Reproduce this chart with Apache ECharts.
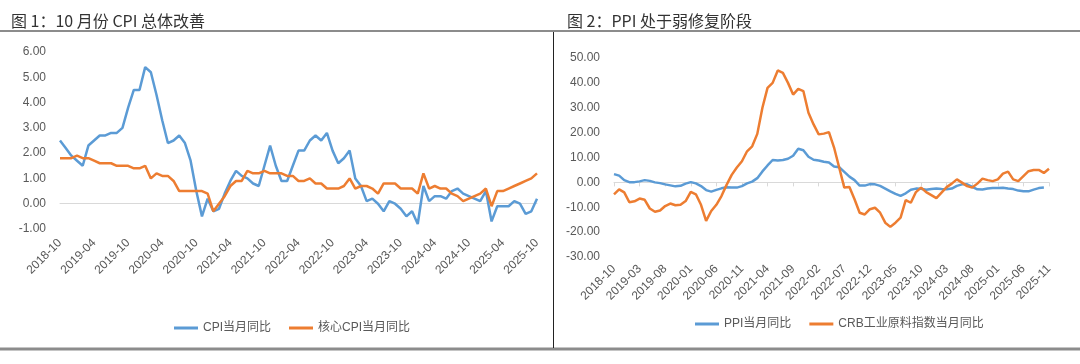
<!DOCTYPE html>
<html><head><meta charset="utf-8">
<script src="https://cdn.jsdelivr.net/npm/echarts@6/dist/echarts.min.js"></script>
<style>html,body{margin:0;padding:0;background:#fff}#c{width:1080px;height:364px}</style>
</head><body><div id="c"></div>
<script>
// ---- data ----
const cpiMonths = [];
(function(){let y=2018,m=10;for(let i=0;i<85;i++){cpiMonths.push(y+'-'+String(m).padStart(2,'0'));m++;if(m>12){m=1;y++;}}})();
const ppiMonths = [];
(function(){let y=2018,m=10;for(let i=0;i<86;i++){ppiMonths.push(y+'-'+String(m).padStart(2,'0'));m++;if(m>12){m=1;y++;}}})();

const cpiYoY = [2.5,2.2,1.9,
 1.7,1.5,2.3,2.5,2.7,2.7,2.8,2.8,3.0,3.8,4.5,4.5,
 5.4,5.2,4.3,3.3,2.4,2.5,2.7,2.4,1.7,0.5,-0.5,0.2,
 -0.3,-0.2,0.4,0.9,1.3,1.1,1.0,0.8,0.7,1.5,2.3,1.5,
 0.9,0.9,1.5,2.1,2.1,2.5,2.7,2.5,2.8,2.1,1.6,1.8,
 2.1,1.0,0.7,0.1,0.2,0.0,-0.3,0.1,0.0,-0.2,-0.5,-0.3,
 -0.8,0.7,0.1,0.3,0.3,0.2,0.5,0.6,0.4,0.3,0.2,0.1,
 0.5,-0.7,-0.1,-0.1,-0.1,0.1,0.0,-0.4,-0.3,0.2];
const coreCpiYoY = [1.8,1.8,1.8,
 1.9,1.8,1.8,1.7,1.6,1.6,1.6,1.5,1.5,1.5,1.4,1.4,
 1.5,1.0,1.2,1.1,1.1,0.9,0.5,0.5,0.5,0.5,0.5,0.4,
 -0.3,0.0,0.3,0.7,0.9,0.9,1.3,1.2,1.2,1.3,1.2,1.2,
 1.2,1.1,1.1,0.9,0.9,1.0,0.8,0.8,0.6,0.6,0.6,0.7,
 1.0,0.6,0.7,0.7,0.6,0.4,0.8,0.8,0.8,0.6,0.6,0.6,
 0.4,1.2,0.6,0.7,0.6,0.6,0.4,0.3,0.1,0.2,0.3,0.4,
 0.6,-0.1,0.5,0.5,0.6,0.7,0.8,0.9,1.0,1.2];
const ppiYoY = [3.3,2.7,0.9,
 0.1,0.1,0.4,0.9,0.6,0.0,-0.3,-0.8,-1.2,-1.6,-1.4,-0.5,
 0.1,-0.4,-1.5,-3.1,-3.7,-3.0,-2.4,-2.0,-2.1,-2.1,-1.5,-0.4,
 0.3,1.7,4.4,6.8,9.0,8.8,9.0,9.5,10.7,13.5,12.9,10.3,
 9.1,8.8,8.3,8.0,6.4,6.1,4.2,2.3,0.9,-1.3,-1.3,-0.7,
 -0.8,-1.4,-2.5,-3.6,-4.6,-5.4,-4.4,-3.0,-2.5,-2.6,-3.0,-2.7,
 -2.5,-2.7,-2.8,-2.5,-1.4,-0.8,-0.8,-1.8,-2.8,-2.9,-2.5,-2.3,
 -2.3,-2.2,-2.5,-2.7,-3.3,-3.6,-3.6,-2.9,-2.3,-2.1,null];
const crbYoY = [-4.8,-2.8,-4.0,-8.0,-7.6,-6.5,-7.0,-10.5,-11.8,-11.3,
 -9.5,-8.5,-9.2,-9.0,-7.5,-3.8,-4.8,-9.0,-15.5,-11.5,
 -9.0,-5.5,-1.0,3.0,6.0,8.5,12.5,14.5,19.5,30.0,
 38.0,40.0,45.0,44.0,40.0,35.3,37.6,36.7,28.0,23.3,
 19.3,19.6,20.2,14.0,6.0,-2.1,-1.9,-6.8,-12.2,-12.9,
 -10.8,-10.2,-12.2,-16.2,-17.9,-16.2,-14.2,-7.1,-8.2,-3.9,
 -2.1,-3.9,-5.1,-6.3,-4.1,-1.9,-0.5,1.2,-0.1,-1.5,
 -2.1,-0.5,1.5,0.9,0.5,1.2,3.5,4.3,1.2,0.5,
 2.5,4.5,5.0,5.0,3.8,5.5];

const BLUE='#5B9BD5', ORANGE='#ED7D31', TXT='#595959';
const FONT='"Liberation Sans","Noto Sans CJK SC",sans-serif';
const chart = echarts.init(document.getElementById('c'));
const lblX = {color:TXT,fontSize:12,fontFamily:FONT,rotate:45,margin:12};
const lblY = ()=>({color:TXT,fontSize:12,fontFamily:FONT,margin:14,formatter:v=>v.toFixed(2)});
chart.setOption({
  animation:false,
  title:[
    {text:'图 1：10 月份 CPI 总体改善',left:6,top:8,textStyle:{fontSize:16,fontWeight:'normal',color:'#333',fontFamily:'"Noto Sans CJK SC",sans-serif'}},
    {text:'图 2：PPI 处于弱修复阶段',left:562,top:8,textStyle:{fontSize:16,fontWeight:'normal',color:'#333',fontFamily:'"Noto Sans CJK SC",sans-serif'}}
  ],
  legend:[
    {data:['CPI当月同比','核心CPI当月同比'],left:169,top:317,icon:'rect',itemWidth:24,itemHeight:3,itemGap:18,textStyle:{color:TXT,fontSize:12,fontFamily:FONT}},
    {data:['PPI当月同比','CRB工业原料指数当月同比'],left:690,top:313,icon:'rect',itemWidth:24,itemHeight:3,itemGap:18,textStyle:{color:TXT,fontSize:12,fontFamily:FONT}}
  ],
  grid:[
    {left:60,right:543,top:52,bottom:135},
    {left:614,right:31,top:58,bottom:107}
  ],
  xAxis:[
    {gridIndex:0,type:'category',data:cpiMonths,boundaryGap:false,position:'bottom',axisLine:{show:false,onZero:false},axisTick:{show:false},axisLabel:Object.assign({interval:5},lblX)},
    {gridIndex:0,type:'category',data:cpiMonths,boundaryGap:false,position:'bottom',axisLine:{show:true,onZero:true,lineStyle:{color:'#d9d9d9'}},axisTick:{show:false},axisLabel:{show:false}},
    {gridIndex:1,type:'category',data:ppiMonths,boundaryGap:false,position:'bottom',axisLine:{show:false,onZero:false},axisTick:{show:false},axisLabel:Object.assign({interval:4},lblX,{margin:10})},
    {gridIndex:1,type:'category',data:ppiMonths,boundaryGap:false,position:'bottom',axisLine:{show:true,onZero:true,lineStyle:{color:'#d9d9d9'}},axisTick:{show:true,interval:4,length:4,lineStyle:{color:'#d9d9d9'}},axisLabel:{show:false}}
  ],
  yAxis:[
    {gridIndex:0,type:'value',min:-1,max:6,interval:1,axisLine:{show:false},axisTick:{show:false},splitLine:{show:false},axisLabel:lblY()},
    {gridIndex:1,type:'value',min:-30,max:50,interval:10,axisLine:{show:false},axisTick:{show:false},splitLine:{show:false},axisLabel:lblY()}
  ],
  series:[
    {name:'CPI当月同比',type:'line',xAxisIndex:0,yAxisIndex:0,data:cpiYoY,showSymbol:false,lineStyle:{color:BLUE,width:2.5},itemStyle:{color:BLUE}},
    {name:'核心CPI当月同比',type:'line',xAxisIndex:0,yAxisIndex:0,data:coreCpiYoY,showSymbol:false,lineStyle:{color:ORANGE,width:2.5},itemStyle:{color:ORANGE}},
    {name:'PPI当月同比',type:'line',xAxisIndex:2,yAxisIndex:1,data:ppiYoY,showSymbol:false,lineStyle:{color:BLUE,width:2.5},itemStyle:{color:BLUE}},
    {name:'CRB工业原料指数当月同比',type:'line',xAxisIndex:2,yAxisIndex:1,data:crbYoY,showSymbol:false,lineStyle:{color:ORANGE,width:2.5},itemStyle:{color:ORANGE}}
  ],
  graphic:[
    {type:'line',shape:{x1:0,y1:31,x2:1080,y2:31},style:{stroke:'#8c8c8c',lineWidth:2}},
    {type:'line',shape:{x1:0,y1:349,x2:1080,y2:349},style:{stroke:'#8c8c8c',lineWidth:3}},
    {type:'line',shape:{x1:553.5,y1:32,x2:553.5,y2:348},style:{stroke:'#222',lineWidth:1}}
  ]
});
</script></body></html>
